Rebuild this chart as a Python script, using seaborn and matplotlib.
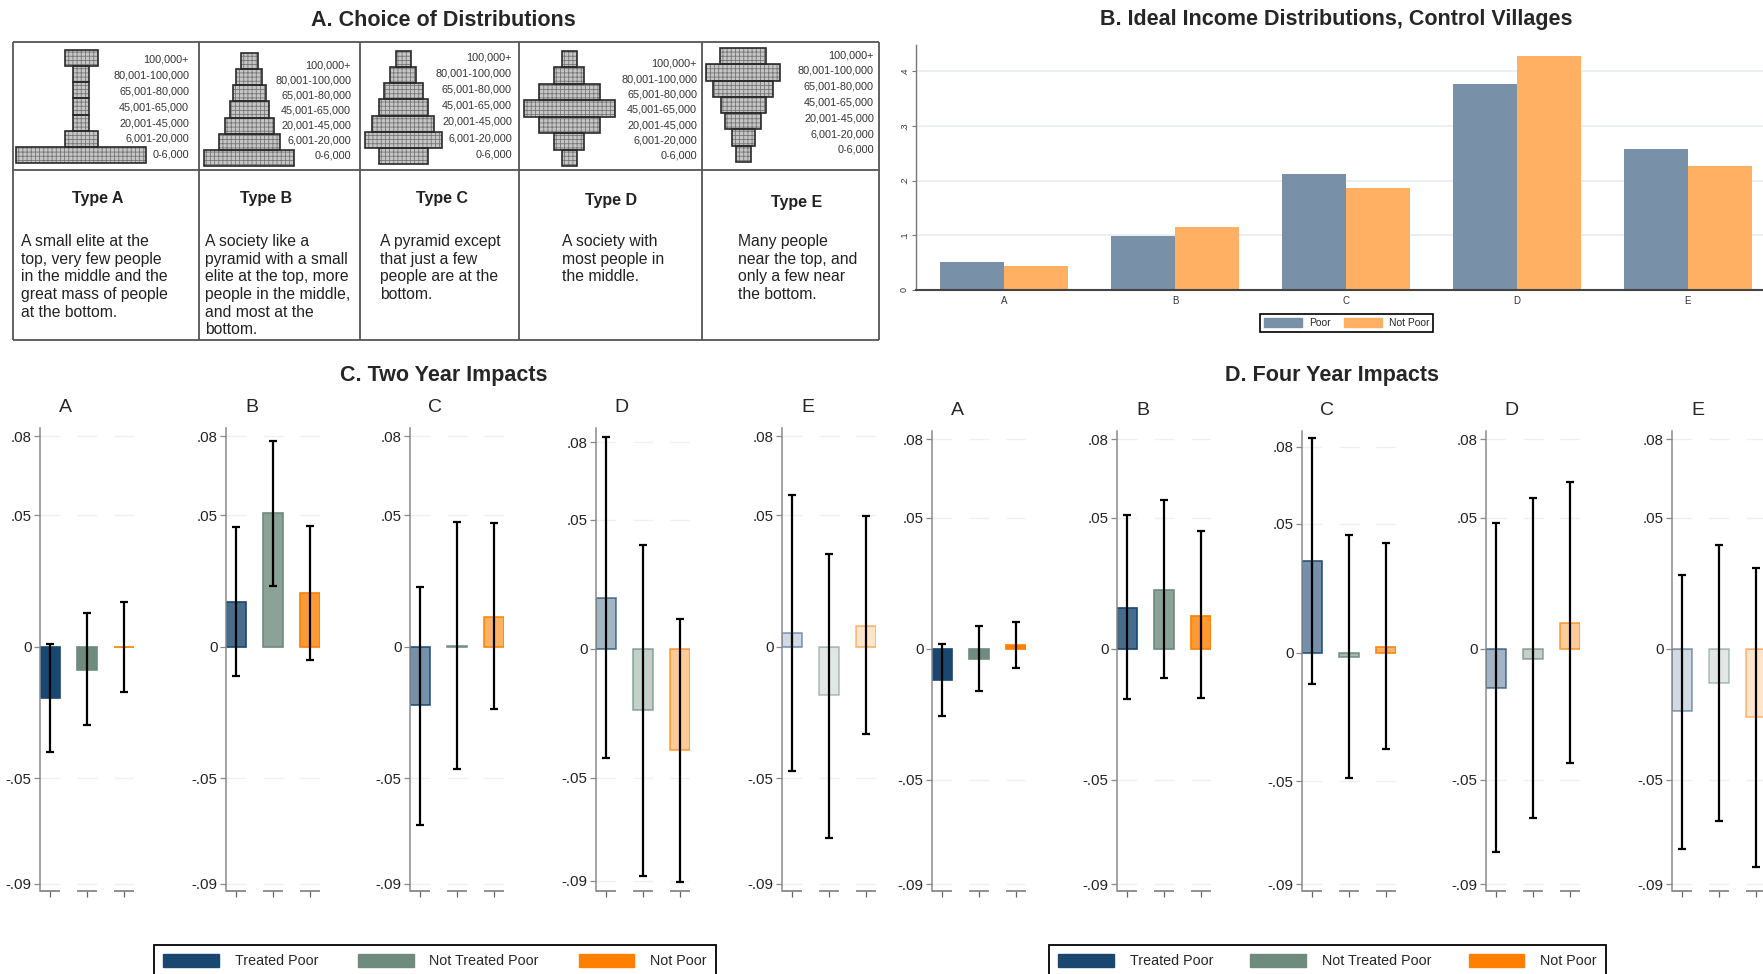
import matplotlib
matplotlib.use("Agg")
import matplotlib.pyplot as plt
import matplotlib.colors as mcolors
from matplotlib.patches import Patch
import seaborn as sns
import pandas as pd
import numpy as np

# ---------------- data ----------------
brackets = ['100,000+', '80,001-100,000', '65,001-80,000', '45,001-65,000',
            '20,001-45,000', '6,001-20,000', '0-6,000']
dist_types = ['A', 'B', 'C', 'D', 'E']

# widths of the pyramid drawings, top bracket first
pyr_a = [33, 16, 16, 16, 16, 33, 130]
pyr_b = [17, 26, 33, 39, 49, 61, 90]
pyr_c = [15, 26, 39, 49, 62, 77, 49]
pyr_d = [15, 30, 61, 91, 61, 30, 15]
pyr_e = [46, 74, 60, 45, 36, 23, 15]

type_text = [
    "A small elite at the\ntop, very few people\nin the middle and the\ngreat mass of people\nat the bottom.",
    "A society like a\npyramid with a small\nelite at the top, more\npeople in the middle,\nand most at the\nbottom.",
    "A pyramid except\nthat just a few\npeople are at the\nbottom.",
    "A society with\nmost people in\nthe middle.",
    "Many people\nnear the top, and\nonly a few near\nthe bottom.",
]

# panel B: share choosing each distribution
ideal_poor = [0.051, 0.099, 0.213, 0.377, 0.257]
ideal_not_poor = [0.043, 0.115, 0.187, 0.427, 0.227]

groups = ['Treated Poor', 'Not Treated Poor', 'Not Poor']

# panel C: two year impacts (per distribution type: TP, NTP, NP)
two_yr_est = [[-0.0195, -0.0088, 0.0000],
              [0.0170, 0.0509, 0.0205],
              [-0.0220, 0.0003, 0.0115],
              [0.0198, -0.0236, -0.0391],
              [0.0051, -0.0183, 0.0080]]
two_yr_lo = [[-0.0400, -0.0298, -0.0173],
             [-0.0110, 0.0232, -0.0051],
             [-0.0676, -0.0466, -0.0237],
             [-0.0425, -0.0879, -0.0906],
             [-0.0473, -0.0725, -0.0331]]
two_yr_hi = [[0.0011, 0.0128, 0.0170],
             [0.0455, 0.0784, 0.0460],
             [0.0229, 0.0476, 0.0470],
             [0.0823, 0.0404, 0.0116],
             [0.0579, 0.0354, 0.0496]]

# panel D: four year impacts
four_yr_est = [[-0.0121, -0.0039, 0.0014],
               [0.0155, 0.0226, 0.0126],
               [0.0357, -0.0018, 0.0022],
               [-0.0149, -0.0038, 0.0098],
               [-0.0239, -0.0130, -0.0262]]
four_yr_lo = [[-0.0256, -0.0162, -0.0073],
              [-0.0193, -0.0113, -0.0190],
              [-0.0121, -0.0488, -0.0374],
              [-0.0776, -0.0648, -0.0436],
              [-0.0766, -0.0659, -0.0835]]
four_yr_hi = [[0.0019, 0.0085, 0.0103],
              [0.0511, 0.0569, 0.0448],
              [0.0834, 0.0456, 0.0425],
              [0.0482, 0.0576, 0.0639],
              [0.0282, 0.0398, 0.0308]]

yticks_imp = [0.08, 0.05, 0, -0.05, -0.09]
ytick_labels_imp = ['.08', '.05', '0', '-.05', '-.09']

# ---------------- style ----------------
sns.set_theme(style='white')
plt.rcParams['font.family'] = ['Liberation Sans', 'DejaVu Sans']
plt.rcParams['hatch.linewidth'] = 0.6

group_colors = ['#1a476f', '#6e8b7e', '#ff8000']
poor_colors = ['#7890a8', '#ffb062']
facet_alpha = [1.0, 0.8, 0.6, 0.4, 0.2]

W, H = 1763, 974
fig = plt.figure(figsize=(W / 100, H / 100), dpi=100)


def fig_box(left, top, right, bottom):
    return [left / W, 1 - bottom / H, (right - left) / W, (bottom - top) / H]


# ---------------- panel A: table ----------------
ax_a = fig.add_axes(fig_box(0, 0, 880, 345))
ax_a.set_xlim(0, 880)
ax_a.set_ylim(345, 0)
ax_a.axis('off')

cell_edges = [13, 199, 360, 519, 702, 879]
ax_a.vlines(cell_edges, 42, 340, color='#555555', lw=1.3)
ax_a.hlines([42, 170, 340], 13, 879, color='#555555', lw=1.3)

pyramids = [pyr_a, pyr_b, pyr_c, pyr_d, pyr_e]
pyr_center = [81, 249, 403, 569, 743]
pyr_rows = [(50, 163), (53, 166), (51, 164), (51, 166), (48, 162)]
label_right = [189, 351, 512, 697, 874]
label_rows = [(60, 154.5), (65, 156), (57, 154.5), (64, 155.5), (55, 150)]
header_xy = [(98, 199), (266, 199), (442, 199), (611, 200), (797, 202)]
text_left = [21, 205, 380, 562, 738]

for i, t in enumerate(dist_types):
    widths = np.array(pyramids[i], dtype=float)
    top, bot = pyr_rows[i]
    rh = (bot - top) / len(brackets)
    yc = top + rh * (np.arange(len(brackets)) + 0.5)
    lefts = pyr_center[i] - widths / 2
    ax_a.barh(yc, widths, left=lefts, height=rh, color='#c6c6c6',
              edgecolor='#767676', hatch='++++', lw=0)
    ax_a.barh(yc, widths, left=lefts, height=rh, fill=False,
              edgecolor='#2a2a2a', lw=1.2)
    ly = np.linspace(label_rows[i][0], label_rows[i][1], len(brackets))
    for lab, yy in zip(brackets, ly):
        ax_a.text(label_right[i], yy, lab, ha='right', va='center',
                  fontsize=7.8, color='#333333')
    ax_a.text(header_xy[i][0], header_xy[i][1], 'Type ' + t, ha='center',
              va='center', fontsize=11.5, fontweight='bold', color='#222222')
    ax_a.text(text_left[i], 234, type_text[i], ha='left', va='top',
              fontsize=11.3, color='#222222', linespacing=1.22)

fig.text(443 / W, 1 - 21 / H, 'A. Choice of Distributions', ha='center',
         va='center', fontsize=15.5, fontweight='bold')

# ---------------- panel B ----------------
ax_b = fig.add_axes(fig_box(916, 45, 1763, 290))
df_b = pd.DataFrame({
    'type': dist_types * 2,
    'share': ideal_poor + ideal_not_poor,
    'group': ['Poor'] * 5 + ['Not Poor'] * 5,
})
sns.barplot(df_b, x='type', y='share', hue='group', palette=poor_colors,
            width=0.75, saturation=1, errorbar=None, legend=False, ax=ax_b,
            zorder=2)
for p in ax_b.patches:
    p.set_linewidth(0)
ax_b.set_xlim(-0.515, 4.44)
ax_b.set_ylim(0, 0.448)
ax_b.set_yticks([0, 0.1, 0.2, 0.3, 0.4])
ax_b.set_yticklabels(['0', '.1', '.2', '.3', '.4'], rotation=90, va='center')
ax_b.set_xlabel('')
ax_b.set_ylabel('')
for yv in [0.1, 0.2, 0.3, 0.4]:
    ax_b.axhline(yv, color='#e6eef1', lw=1.2, zorder=0)
for s in ['top', 'right']:
    ax_b.spines[s].set_visible(False)
ax_b.spines['left'].set_color('#777777')
ax_b.spines['left'].set_linewidth(1)
ax_b.spines['bottom'].set_color('#444444')
ax_b.spines['bottom'].set_linewidth(1.5)
ax_b.tick_params(axis='y', length=3, width=0.8, color='#777777', labelsize=6.5,
                 pad=2, labelcolor='#333333', left=True)
ax_b.tick_params(axis='x', length=0, labelsize=7, pad=4, labelcolor='#333333')

fig.text(1336 / W, 1 - 20 / H, 'B. Ideal Income Distributions, Control Villages',
         ha='center', va='center', fontsize=15.5, fontweight='bold')

leg_b = fig.legend([Patch(facecolor=c, edgecolor=c) for c in poor_colors],
                   ['Poor', 'Not Poor'], loc='center',
                   bbox_to_anchor=(1346.5 / W, 1 - 323 / H), ncol=2,
                   fontsize=7.5, handlelength=3.7, handleheight=1.0,
                   handletextpad=0.6, columnspacing=1.3, borderpad=0.35,
                   frameon=True, fancybox=False, edgecolor='black',
                   framealpha=1, borderaxespad=0)
leg_b.get_frame().set_linewidth(1.2)


# ---------------- panels C and D ----------------
def draw_facet(ax, est, lo, hi, alpha, ylim, title):
    est = np.array(est)
    lo = np.array(lo)
    hi = np.array(hi)
    df = pd.DataFrame({'group': groups, 'est': est})
    sns.barplot(df, x='group', y='est', hue='group', palette=group_colors,
                width=0.55, saturation=1, errorbar=None, legend=False, ax=ax,
                zorder=2)
    for p, c in zip(ax.patches, group_colors):
        p.set_facecolor(mcolors.to_rgba(c, alpha))
        p.set_edgecolor(mcolors.to_rgba(c, min(1.0, alpha + 0.3)))
        p.set_linewidth(1.2)
    x = np.arange(len(groups))
    ax.errorbar(x, est, yerr=[est - lo, hi - est], fmt='none', ecolor='black',
                elinewidth=1.6, capsize=3.2, capthick=1.6, zorder=3)
    ax.set_xlim(-0.27, 2.27)
    ax.set_ylim(*ylim)
    for yv in yticks_imp:
        ax.hlines(np.full(len(x), yv), x - 0.275, x + 0.275, color='#f0f0f0',
                  lw=1, zorder=0)
    ax.hlines(np.full(len(x), ylim[0]), x - 0.275, x + 0.275, color='#888888',
              lw=1.3, clip_on=False, zorder=1)
    ax.set_yticks(yticks_imp)
    ax.set_yticklabels(ytick_labels_imp)
    ax.set_xticks(x)
    ax.set_xticklabels([''] * len(groups))
    ax.set_xlabel('')
    ax.set_ylabel('')
    for s in ['top', 'right', 'bottom']:
        ax.spines[s].set_visible(False)
    ax.spines['left'].set_color('#8a8a8a')
    ax.spines['left'].set_linewidth(1.1)
    ax.tick_params(axis='y', length=4, width=0.9, color='#8a8a8a',
                   labelsize=10.8, pad=2, labelcolor='#222222', left=True)
    ax.tick_params(axis='x', length=4, width=0.9, color='#666666',
                   bottom=True, direction='out')
    ax.text(0.27, 1.045, title, transform=ax.transAxes, ha='center',
            va='center', fontsize=14)


c_lefts = [40, 226, 410, 596, 782]
d_lefts = [932, 1117, 1302, 1486, 1672]
c_ylims = [(-0.0928, 0.0832)] * 3 + [(-0.0939, 0.0856), (-0.0928, 0.0832)]
d_ylims = [(-0.0926, 0.0832)] * 2 + [(-0.0926, 0.0861)] + [(-0.0926, 0.0832)] * 2

for i, t in enumerate(dist_types):
    ax = fig.add_axes(fig_box(c_lefts[i], 428, c_lefts[i] + 94, 891))
    draw_facet(ax, two_yr_est[i], two_yr_lo[i], two_yr_hi[i], facet_alpha[i],
               c_ylims[i], t)
    ax = fig.add_axes(fig_box(d_lefts[i], 431, d_lefts[i] + 94, 891))
    draw_facet(ax, four_yr_est[i], four_yr_lo[i], four_yr_hi[i], facet_alpha[i],
               d_ylims[i], t)

fig.text(444 / W, 1 - 375 / H, 'C. Two Year Impacts', ha='center', va='center',
         fontsize=15.5, fontweight='bold')
fig.text(1332 / W, 1 - 375 / H, 'D. Four Year Impacts', ha='center', va='center',
         fontsize=15.5, fontweight='bold')

imp_handles = [Patch(facecolor=c, edgecolor=c) for c in group_colors]
for x0, wbox in [(154, 562), (1049, 557)]:
    leg = fig.legend(imp_handles, groups, loc='upper left',
                     bbox_to_anchor=(x0 / W, 1 - 945 / H, wbox / W, 0),
                     mode='expand', ncol=3, fontsize=10.3, handlelength=3.9,
                     handleheight=0.95, handletextpad=1.1, borderpad=0.65,
                     frameon=True, fancybox=False, edgecolor='black',
                     framealpha=1, borderaxespad=0)
    leg.get_frame().set_linewidth(1.3)

fig.savefig('out.png', dpi=100)
